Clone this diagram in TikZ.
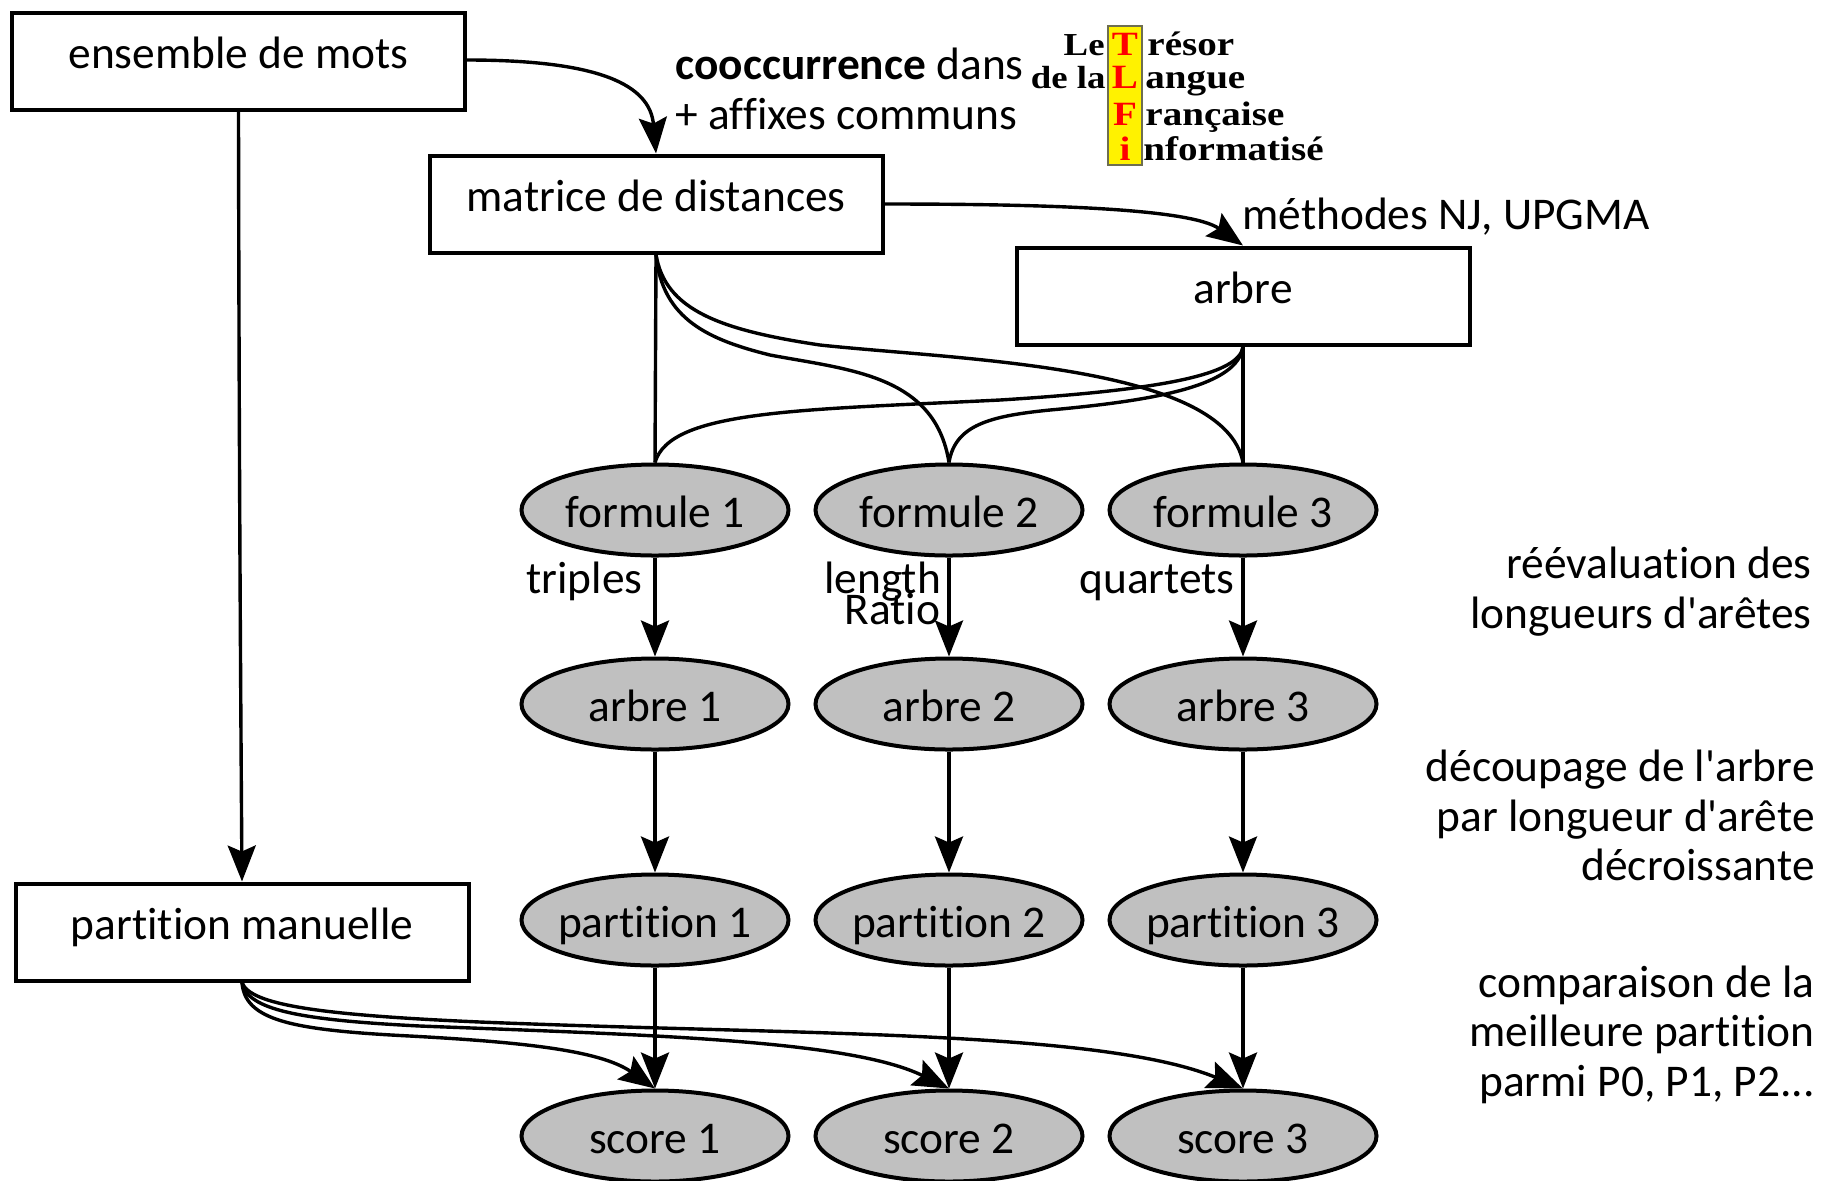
\documentclass[tikz,border=0pt]{standalone}
\usepackage{fontspec}
\setmainfont[Ligatures={TeXOff,NoCommon}]{Carlito}
\newfontfamily\tlfifont[FakeStretch=1.15]{Liberation Serif}
\usetikzlibrary{arrows.meta,shapes.geometric}
\newcommand{\upbox}[1]{\raisebox{-3.8pt}[0pt][0pt]{#1}}
\newcommand{\dnbox}[1]{\raisebox{-8.6pt}[0pt][0pt]{\makebox[0pt]{#1}}}
\definecolor{gray75}{HTML}{C0C0C0}
\definecolor{logoedge}{HTML}{6E6E50}
\tikzset{
  boxnode/.style={draw=black,line width=2pt,minimum width=226.5pt,minimum height=48.5pt,inner sep=0pt,font=\fontsize{22.7}{27}\selectfont},
  ellnode/.style={ellipse,draw=black,fill=gray75,line width=2pt,minimum width=133.5pt,minimum height=45.5pt,inner sep=0pt,font=\fontsize{22.7}{27}\selectfont},
  lab/.style={inner sep=0pt,font=\fontsize{22.7}{27}\selectfont},
  logo/.style={inner sep=0pt,font=\tlfifont\bfseries\fontsize{17}{20}\selectfont},
  logosmall/.style={inner sep=0pt,font=\tlfifont\bfseries\fontsize{16}{20}\selectfont},
  logored/.style={logo,text=red},
  link/.style={line width=1.7pt,draw=black},
  arrow/.style={link,-{Stealth[length=18pt,width=14pt,inset=3pt]}},
}
\begin{document}
\begin{tikzpicture}[x=0.5pt,y=-0.5pt]
\useasboundingbox (0,0) rectangle (1825,1180);
% boxes
\node[boxnode] (ens) at (238.5,61) {\upbox{ensemble de mots}};
\node[boxnode] (mat) at (656,204) {\upbox{matrice de distances}};
\node[boxnode] (arb) at (1243,296) {\upbox{arbre}};
\node[boxnode] (man) at (242,932) {\upbox{partition manuelle}};
% ellipses
\foreach \i/\x in {1/655,2/949,3/1243}{
  \node[ellnode] (f\i) at (\x,510) {\dnbox{formule \i}};
  \node[ellnode] (a\i) at (\x,704) {\dnbox{arbre \i}};
  \node[ellnode] (p\i) at (\x,920) {\dnbox{partition \i}};
  \node[ellnode] (s\i) at (\x,1136) {\dnbox{score \i}};
}
% connectors
\draw[arrow] (ens.south) .. controls (239,400) and (240,600) .. (man.north);
\draw[arrow] (ens.east) ++(0,-1) coordinate (ense) (ense) .. controls (600,60) and (650,85) .. (mat.north);
\draw[arrow] (mat.east) .. controls (1040,204) and (1190,208) .. (arb.north);
\draw[link] (mat.south) -- (f1.north);
\draw[link] (mat.south) .. controls (662,320) and (710,340) .. (770,355) .. controls (850,370) and (935,375) .. (f2.north);
\draw[link] (mat.south) .. controls (665,310) and (720,330) .. (820,345) .. controls (960,360) and (1225,365) .. (f3.north);
\draw[link] (arb.south) .. controls (1240,375) and (1160,390) .. (1000,400) .. controls (800,410) and (670,410) .. (f1.north);
\draw[link] (arb.south) .. controls (1238,385) and (1160,400) .. (1050,410) .. controls (990,416) and (955,425) .. (f2.north);
\draw[link] (arb.south) -- (f3.north);
\foreach \i in {1,2,3}{
  \draw[arrow] (f\i) -- (a\i);
  \draw[arrow] (a\i) -- (p\i);
  \draw[arrow] (p\i) -- (s\i);
}
\draw[arrow] (man.south) .. controls (245,1020) and (290,1030) .. (410,1036) .. controls (520,1042) and (600,1050) .. (s1.north);
\draw[arrow] (man.south) .. controls (247,1010) and (300,1020) .. (420,1026) .. controls (650,1035) and (850,1040) .. (s2.north);
\draw[arrow] (man.south) .. controls (250,1005) and (320,1015) .. (480,1022) .. controls (800,1035) and (1100,1030) .. (s3.north);
% labels
\node[lab,anchor=base west] (t1) at (675,79) {\textbf{cooccurrence} dans};
\node[lab,anchor=base west] (t2) at (675,129) {+ affixes communs};
\node[lab,anchor=base west] (t3) at (1242,229) {méthodes NJ, UPGMA};
\node[lab,anchor=base west] (t4) at (526,593) {triples};
\node[lab,anchor=base west] (t5) at (824,593) {length};
\node[lab,anchor=base west] (t6) at (844,624) {Ratio};
\node[lab,anchor=base west] (t7) at (1079,593) {quartets};
\node[lab,anchor=base east] (r1) at (1812,578) {réévaluation des};
\node[lab,anchor=base east] (r2) at (1812,628) {longueurs d'arêtes};
\node[lab,anchor=base east] (r3) at (1815,781) {découpage de l'arbre};
\node[lab,anchor=base east] (r4) at (1815,831) {par longueur d'arête};
\node[lab,anchor=base east] (r5) at (1815,880) {décroissante};
\node[lab,anchor=base east] (r6) at (1815,997) {comparaison de la};
\node[lab,anchor=base east] (r7) at (1815,1046) {meilleure partition};
\node[lab,anchor=base east] (r8) at (1815,1096) {parmi P0, P1, P2...};
% logo
\filldraw[fill=yellow,draw=logoedge,line width=0.6pt] (1108,26) rectangle (1142,165);
\node[logosmall,anchor=base east] (l1) at (1105,55) {Le};
\node[logosmall,anchor=base east] (l2) at (1106,88) {de la};
\node[logored,anchor=base] (c1) at (1125,55) {T};
\node[logored,anchor=base] (c2) at (1125,88) {L};
\node[logored,anchor=base] (c3) at (1125,125) {F};
\node[logored,anchor=base] (c4) at (1125,160) {i};
\node[logo,anchor=base west] (w1) at (1147,55) {résor};
\node[logo,anchor=base west] (w2) at (1145,88) {angue};
\node[logo,anchor=base west] (w3) at (1145,125) {rançaise};
\node[logo,anchor=base west] (w4) at (1143,160) {nformatisé};
\end{tikzpicture}
\end{document}
